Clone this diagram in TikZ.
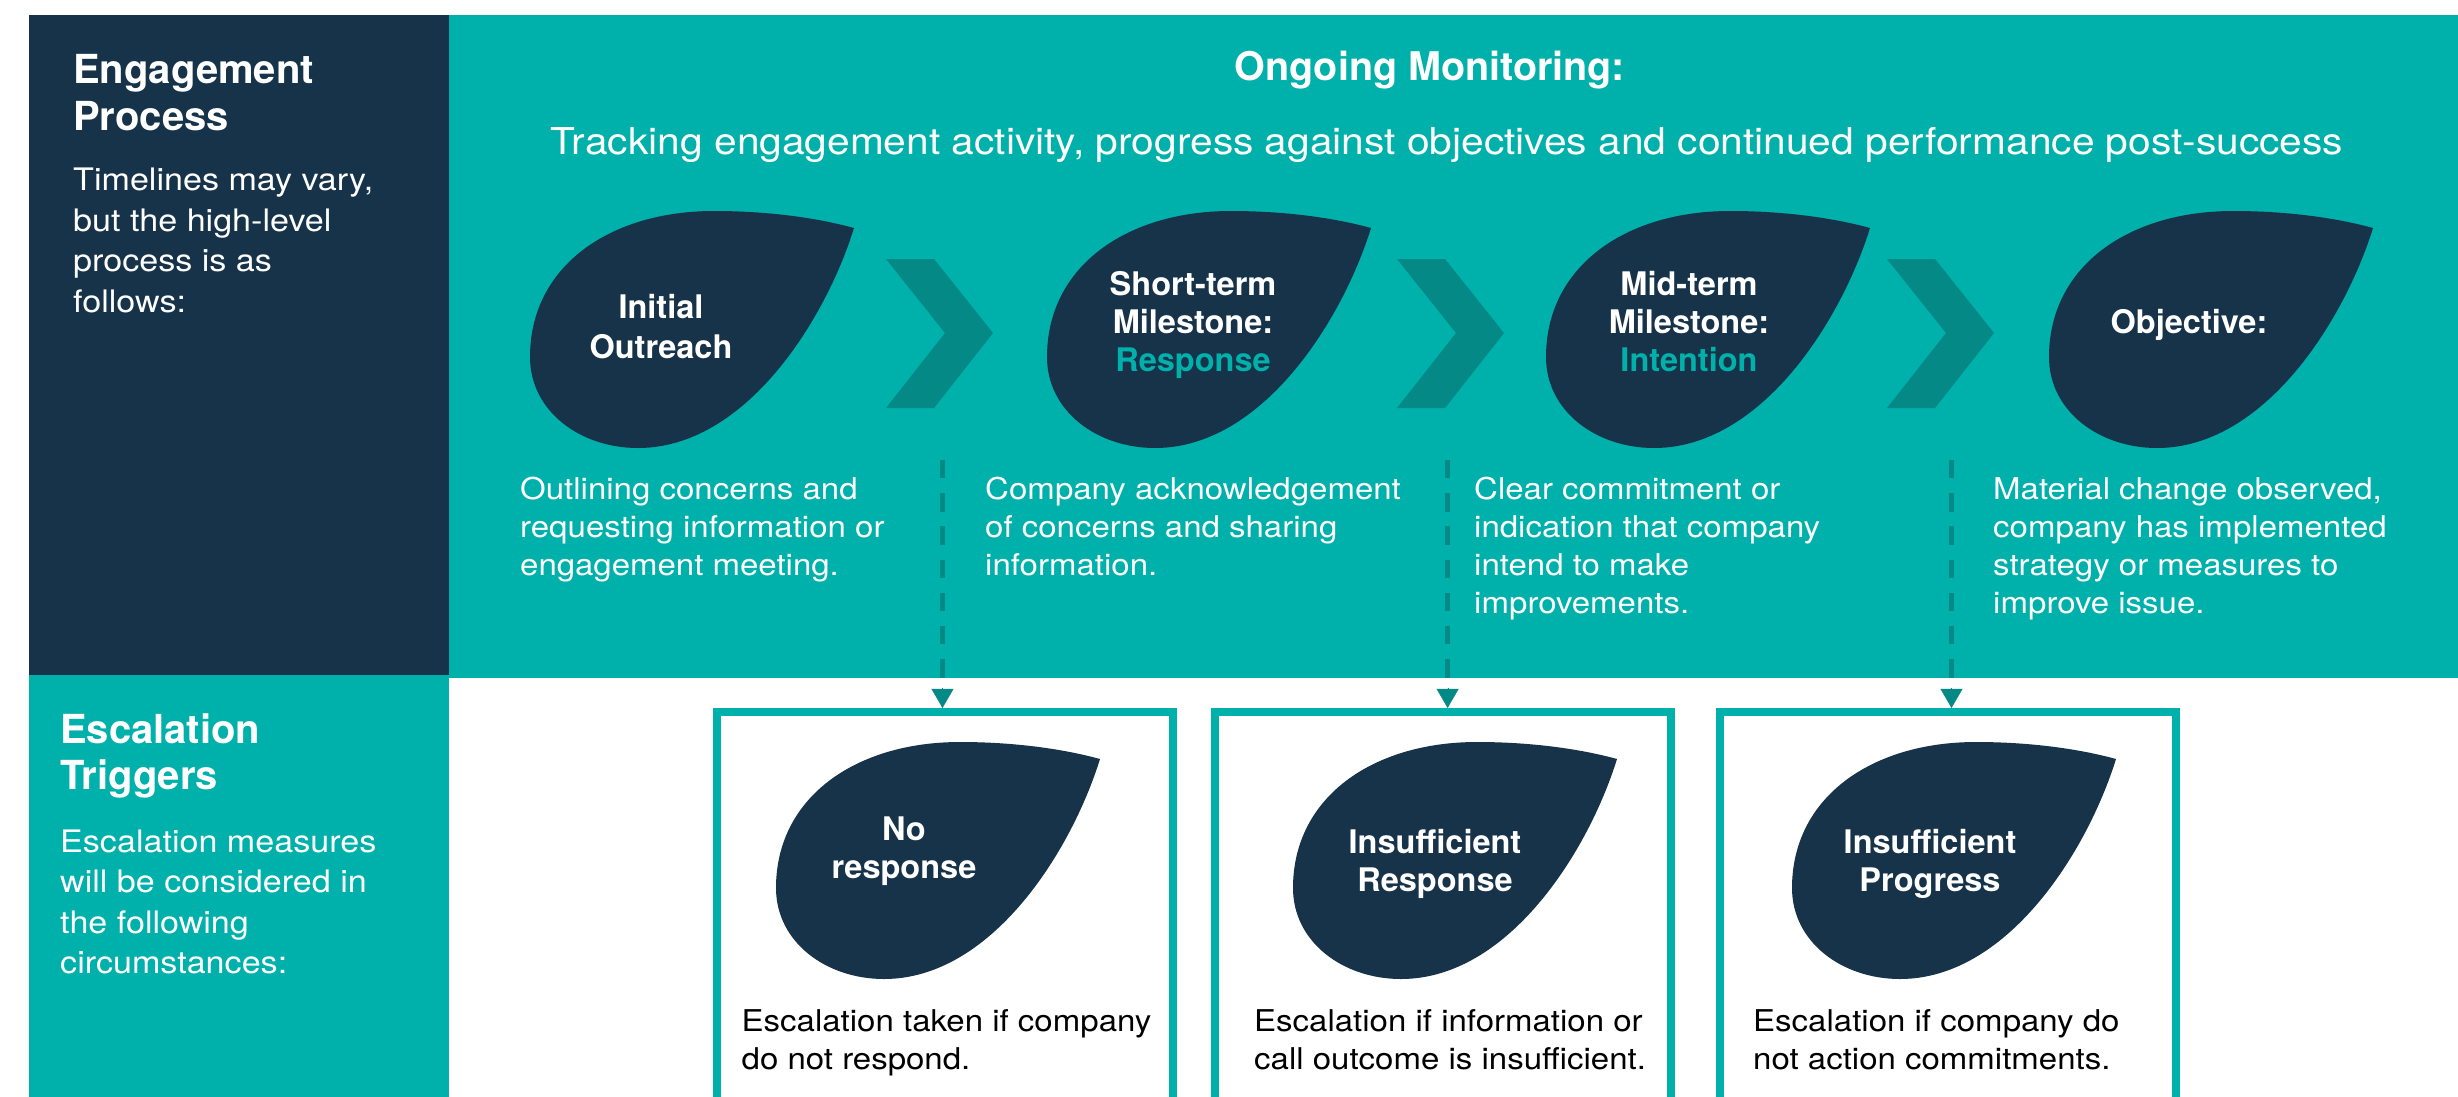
\documentclass[tikz,border=0pt]{standalone}
\usepackage{fontspec}
\setmainfont{TeX Gyre Heros}[FakeStretch=1.1]
\newfontfamily\hfam{TeX Gyre Heros}
\usetikzlibrary{arrows.meta}
\definecolor{cNavy}{RGB}{23,51,73}
\definecolor{cTeal}{RGB}{0,176,171}
\definecolor{cDark}{RGB}{4,137,134}
\newcommand\fsz[2]{\fontsize{#1}{#2}\selectfont}
\newcommand\Lft[1]{\begin{tabular}[t]{@{}l@{}}#1\end{tabular}}
\newcommand\Ctr[1]{\begin{tabular}[t]{@{}c@{}}#1\end{tabular}}
\newcommand\leafat[1]{\fill[cNavy,shift={(#1)}] (324,17) .. controls (280,5) and (230,0) .. (184,0) .. controls (80,0) and (0,55) .. (0,146) .. controls (0,200) and (50,237) .. (108,237) .. controls (215,237) and (295,110) .. (324,17) -- cycle;}
\newcommand\chevat[1]{\fill[cDark,shift={(#1)}] (0,0) -- (48,0) -- (107,74) -- (48,149) -- (0,149) -- (59,74) -- cycle;}
\begin{document}
\begin{tikzpicture}[x=1pt,y=-1pt,
  panel/.style={inner sep=0pt, outer sep=0pt, anchor=north west},
  hd/.style={inner sep=0pt, anchor=base west, text=white, font=\hfam\bfseries\fsz{40}{46.5}},
  bd/.style={inner sep=0pt, anchor=base west, text=white, font=\fsz{31}{40.6}},
  lf/.style={inner sep=0pt, anchor=base, text=white, font=\hfam\bfseries\fsz{32.5}{38}},
  ds/.style={inner sep=0pt, anchor=base west, text=white, font=\fsz{30}{38}},
  bt/.style={ds, text=black},
  bx/.style={draw=cTeal, line width=8pt, fill=white, minimum width=456pt, minimum height=418pt, inner sep=0pt},
  dashline/.style={draw=cDark, line width=4.5pt, dash pattern=on 18.3pt off 14.9pt},
  arrowhd/.style={draw=cDark, fill=cDark, line width=0.2pt, -{Triangle[width=22pt,length=19pt]}}]
\useasboundingbox (0,0) rectangle (2458,1096);
\clip (0,0) rectangle (2458,1096);
\fill[white] (0,0) rectangle (2458,1096);

% panels
\node[panel, fill=cNavy, minimum width=420pt, minimum height=662pt] (eng) at (29,15) {};
\node[panel, fill=cTeal, minimum width=2015pt, minimum height=663pt] (mon) at (449,15) {};
\node[panel, fill=cTeal, minimum width=420pt, minimum height=430pt] (esc) at (29,675) {};

% left texts
\node[hd] (engh) at (73,83.5) {\Lft{Engagement\\Process}};
\node[bd] (engb) at (73,190.5) {\Lft{Timelines may vary,\\but the high-level\\process is as\\follows:}};
\node[hd] (esch) at (60,743) {\Lft{Escalation\\Triggers}};
\node[bd] (escb) at (60,852) {\Lft{Escalation measures\\will be considered in\\the following\\circumstances:}};

% title
\node[inner sep=0pt, anchor=base, text=white, font=\hfam\bfseries\fsz{39.5}{46}] (title) at (1430,80) {Ongoing Monitoring:};
\node[inner sep=0pt, anchor=base, text=white, font=\fsz{37}{44}] (sub) at (1447,154) {Tracking engagement activity, progress against objectives and continued performance post-success};

% leaves (top)
\coordinate (L1) at (530,211);
\coordinate (L2) at (1047,211);
\coordinate (L3) at (1546,211);
\coordinate (L4) at (2049,211);
\leafat{L1}\leafat{L2}\leafat{L3}\leafat{L4}

% chevrons
\coordinate (C1) at (886,259);
\coordinate (C2) at (1397,259);
\coordinate (C3) at (1887,259);
\chevat{C1}\chevat{C2}\chevat{C3}

\node[lf, font=\hfam\bfseries\fsz{32.5}{40}] (t1) at (661,318) {\Ctr{Initial\\Outreach}};
\node[lf] (t2) at (1193,295) {\Ctr{Short-term\\Milestone:\\\textcolor{cTeal}{Response}}};
\node[lf] (t3) at (1689,295) {\Ctr{Mid-term\\Milestone:\\\textcolor{cTeal}{Intention}}};
\node[lf] (t4) at (2189,333) {Objective:};

% descriptions
\node[ds] (d1) at (520,499) {\Lft{Outlining concerns and\\requesting information or\\engagement meeting.}};
\node[ds] (d2) at (985,499) {\Lft{Company acknowledgement\\of concerns and sharing\\information.}};
\node[ds] (d3) at (1474,499) {\Lft{Clear commitment or\\indication that company\\intend to make\\improvements.}};
\node[ds] (d4) at (1993,499) {\Lft{Material change observed,\\company has implemented\\strategy or measures to\\improve issue.}};

% escalation boxes
\node[bx] (box1) at (945,920.9) {};
\node[bx] (box2) at (1443,920.9) {};
\node[bx] (box3) at (1947.5,920.9) {};

\coordinate (B1) at (776,742);
\coordinate (B2) at (1293,742);
\coordinate (B3) at (1792,742);
\leafat{B1}\leafat{B2}\leafat{B3}

\node[lf] (e1) at (904,840) {\Ctr{No\\response}};
\node[lf] (e2) at (1435,853) {\Ctr{Insufficient\\Response}};
\node[lf] (e3) at (1930,853) {\Ctr{Insufficient\\Progress}};

\node[bt] (b1) at (741.5,1031) {\Lft{Escalation taken if company\\do not respond.}};
\node[bt] (b2) at (1254,1031) {\Lft{Escalation if information or\\call outcome is insufficient.}};
\node[bt] (b3) at (1753,1031) {\Lft{Escalation if company do\\not action commitments.}};

% connectors
\coordinate (s1) at (942.5,460);
\coordinate (s2) at (1447.6,460);
\coordinate (s3) at (1951.5,460);
\draw[dashline] (s1) -- (s1 |- mon.south);
\draw[dashline] (s2) -- (s2 |- mon.south);
\draw[dashline] (s3) -- (s3 |- mon.south);
\coordinate (a1) at (942.5,688);
\coordinate (a2) at (1447.6,688);
\coordinate (a3) at (1951.5,688);
\draw[arrowhd] (a1) -- (a1 |- box1.north);
\draw[arrowhd] (a2) -- (a2 |- box2.north);
\draw[arrowhd] (a3) -- (a3 |- box3.north);
\end{tikzpicture}
\end{document}
